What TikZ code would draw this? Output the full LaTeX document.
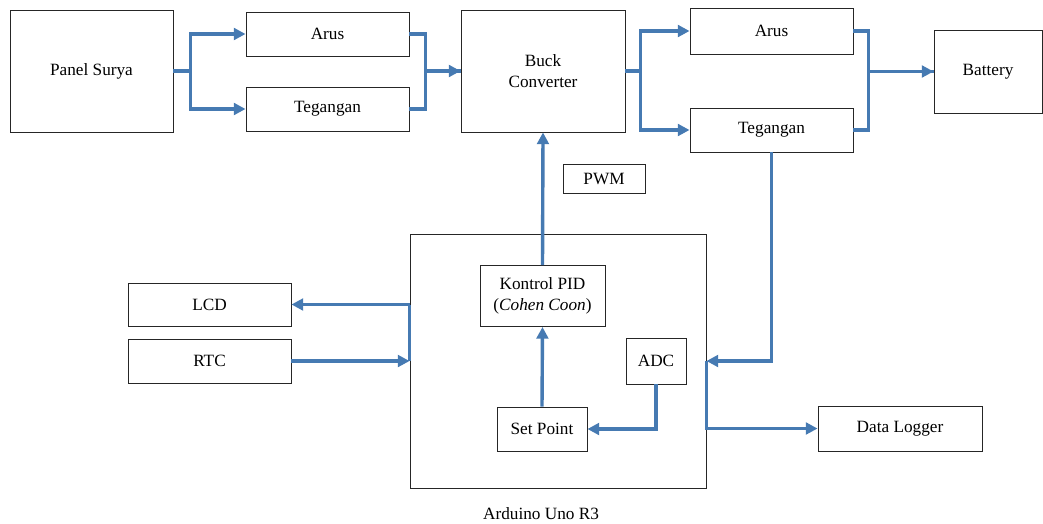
\documentclass[tikz,border=0pt]{standalone}
\usepackage{fontspec}
\setmainfont{Liberation Serif}
\usetikzlibrary{arrows.meta}
\definecolor{linkblue}{RGB}{70,122,178}
\newcommand{\px}{0.03cm}
\tikzset{
  box/.style={draw=black!85, line width=0.8pt, fill=white, inner sep=0pt, align=center},
  boxsize/.style 2 args={minimum width=#1*\px, minimum height=#2*\px},
  link/.style={draw=linkblue, line width=2.9pt, -{Triangle[length=10pt,width=10pt]}},
  wire/.style={draw=linkblue, line width=2.9pt},
}
\begin{document}
\begin{tikzpicture}[x=\px,y=-\px,font=\fontsize{14.7}{18.5}\selectfont]
\useasboundingbox (0,0) rectangle (1043,523);
% top row
\node[box, boxsize={163}{122}] (panel) at (91.5,71) {Panel Surya};
\node[box, boxsize={163}{44}] (arus1) at (327.5,34) {Arus};
\node[box, boxsize={163}{44}] (teg1) at (327.5,109) {Tegangan};
\node[box, boxsize={164}{122}] (buck) at (543,71) {Buck\\Converter};
\node[box, boxsize={163}{46}] (arus2) at (771.5,31) {Arus};
\node[box, boxsize={163}{44}] (teg2) at (771.5,130) {Tegangan};
\node[box, boxsize={108}{83}] (battery) at (988,71.5) {Battery};
\node[box, boxsize={82}{29}] (pwm) at (604,178.5) {PWM};
% arduino
\node[box, boxsize={296}{254}] (ard) at (558,361) {};
\node (ardlabel) at (541,514) {Arduino Uno R3};
\node[box, boxsize={125}{61}] (pid) at (542.5,296) {Kontrol PID\\(\textit{Cohen Coon})};
\node[box, boxsize={60}{46}] (adc) at (656,361) {ADC};
\node[box, boxsize={90}{44}] (sp) at (542,429) {Set Point};
\node[box, boxsize={163}{43}] (lcd) at (209.5,304.5) {LCD};
\node[box, boxsize={163}{44}] (rtc) at (209.5,361) {RTC};
\node[box, boxsize={164}{45}] (logger) at (900,428.5) {Data Logger};
% connectors
\draw[link] (panel.east) -- ++(17,0) |- (arus1.west);
\draw[link] (panel.east) -- ++(17,0) |- (teg1.west);
\draw[wire] (arus1.east) -- ++(16,0) |- (buck.west);
\draw[link] (teg1.east) -- ++(16,0) |- (buck.west);
\draw[link] (buck.east) -- ++(15,0) |- (arus2.west);
\draw[link] (buck.east) -- ++(15,0) |- (teg2.west);
\draw[wire] (arus2.east) -- ++(15,0) |- (battery.west);
\draw[link] (teg2.east) -- ++(15,0) |- (battery.west);
\draw[link] (pid.north) -- (buck.south);
\draw[link] (sp.north) -- (pid.south);
\draw[link] (adc.south) |- (sp.east);
\draw[link] (teg2.south) |- (ard.east);
\draw[link] (ard.east) |- (logger.west);
\draw[link] (ard.west |- lcd.east) -- (lcd.east);
\draw[wire] (ard.west |- lcd.east) -- (ard.west);
\draw[link] (rtc.east) -- (ard.west);
\end{tikzpicture}
\end{document}
